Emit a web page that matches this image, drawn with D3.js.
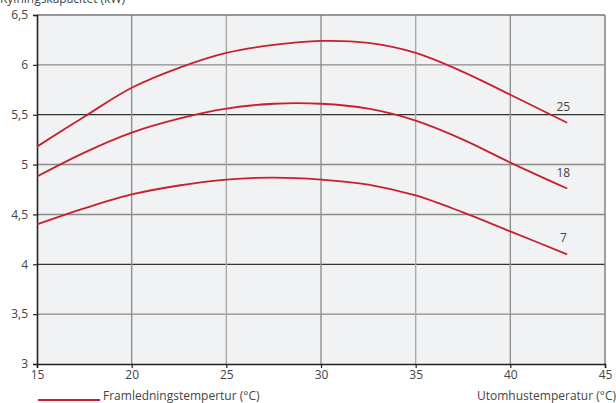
<!DOCTYPE html>
<html><head><meta charset="utf-8">
<script src="https://cdn.jsdelivr.net/npm/d3@7"></script>
<style>body{margin:0;background:#fff;}svg{display:block;font-family:"Open Sans",sans-serif;}</style>
</head><body>
<svg id="c" width="616" height="403"></svg>
<script>
const temps = [15, 17.5, 20, 22.5, 25, 27.5, 30, 32.5, 35, 37.5, 40, 43];
const series25 = [5.18, 5.48, 5.77, 5.97, 6.12, 6.20, 6.24, 6.22, 6.12, 5.93, 5.70, 5.42];
const series18 = [4.88, 5.12, 5.32, 5.46, 5.56, 5.61, 5.61, 5.56, 5.44, 5.25, 5.02, 4.76];
const series7  = [4.40, 4.56, 4.70, 4.79, 4.85, 4.87, 4.85, 4.80, 4.69, 4.52, 4.33, 4.10];
const seriesNames = ["25", "18", "7"];
const xTicks = [15, 20, 25, 30, 35, 40, 45];
const yTicks = [3, 3.5, 4, 4.5, 5, 5.5, 6, 6.5];
const yTitle = "Kylningskapacitet (kW)";
const xTitle = "Utomhustemperatur (°C)";
const legendText = "Framledningstempertur (°C)";

const svg = d3.select("#c");
const L = 37, R = 605, T = 15, B = 364;
const x = d3.scaleLinear().domain([15, 45]).range([L, R]);
const y = d3.scaleLinear().domain([3, 6.5]).range([B, T]);
const red = "#c8202f", txt = "#444";

svg.append("rect").attr("x", L).attr("y", T).attr("width", R - L).attr("height", B - T).attr("fill", "#f1f2f4");

// grid
const darkY = [5.5, 4];
svg.append("g").selectAll("line").data(yTicks.filter(v => v > 3 && v < 6.5)).join("line")
  .attr("x1", L).attr("x2", R).attr("y1", d => y(d)).attr("y2", d => y(d))
  .attr("stroke", d => darkY.includes(d) ? "#333" : "#8a8a8a").attr("stroke-width", d => darkY.includes(d) ? 1.2 : 1.4);
svg.append("g").selectAll("line").data(xTicks.filter(v => v > 15 && v < 45)).join("line")
  .attr("x1", d => x(d)).attr("x2", d => x(d)).attr("y1", T).attr("y2", B)
  .attr("stroke", d => d === 25 || d === 35 ? "#aaa" : "#909090").attr("stroke-width", 1.4);
// top/right frame
svg.append("line").attr("x1", L).attr("x2", R).attr("y1", T).attr("y2", T).attr("stroke", "#777").attr("stroke-width", 1.6);
svg.append("line").attr("x1", R).attr("x2", R).attr("y1", T).attr("y2", B).attr("stroke", "#888").attr("stroke-width", 1.6);

// axes
const ya = svg.append("g").attr("transform", `translate(${L},0)`)
  .call(d3.axisLeft(y).tickValues(yTicks).tickSize(4).tickPadding(5).tickFormat(d => String(d).replace(".", ",")));
const xa = svg.append("g").attr("transform", `translate(0,${B})`)
  .call(d3.axisBottom(x).tickValues(xTicks).tickSize(4).tickPadding(2).tickFormat(d3.format("d")));
[ya, xa].forEach(g => {
  g.select(".domain").attr("stroke", "#222").attr("stroke-width", 1.6);
  g.selectAll(".tick line").attr("stroke", "#222").attr("stroke-width", 1.2);
  g.selectAll(".tick text").attr("fill", txt).attr("font-size", 12).attr("font-family", "Open Sans");
});

// lines
const line = d3.line().x((d, i) => x(temps[i])).y(d => y(d)).curve(d3.curveCatmullRom.alpha(0.5));
const all = [series25, series18, series7];
svg.append("g").selectAll("path").data(all).join("path")
  .attr("d", line).attr("fill", "none").attr("stroke", red).attr("stroke-width", 1.8);
svg.append("g").selectAll("text").data(all).join("text")
  .attr("x", x(42.8)).attr("y", d => y(d[d.length - 1]) - 12)
  .attr("text-anchor", "middle").attr("fill", txt).attr("font-size", 12)
  .text((d, i) => seriesNames[i]);

// titles
svg.append("text").attr("x", 0).attr("y", 3).attr("fill", txt).attr("font-size", 12).text(yTitle);
svg.append("text").attr("x", 616).attr("y", 400).attr("text-anchor", "end").attr("fill", txt).attr("font-size", 12).text(xTitle);
svg.append("line").attr("x1", 38).attr("x2", 100).attr("y1", 400).attr("y2", 400).attr("stroke", red).attr("stroke-width", 1.8);
svg.append("text").attr("x", 103).attr("y", 400).attr("fill", txt).attr("font-size", 12).text(legendText);
</script>
</body></html>
